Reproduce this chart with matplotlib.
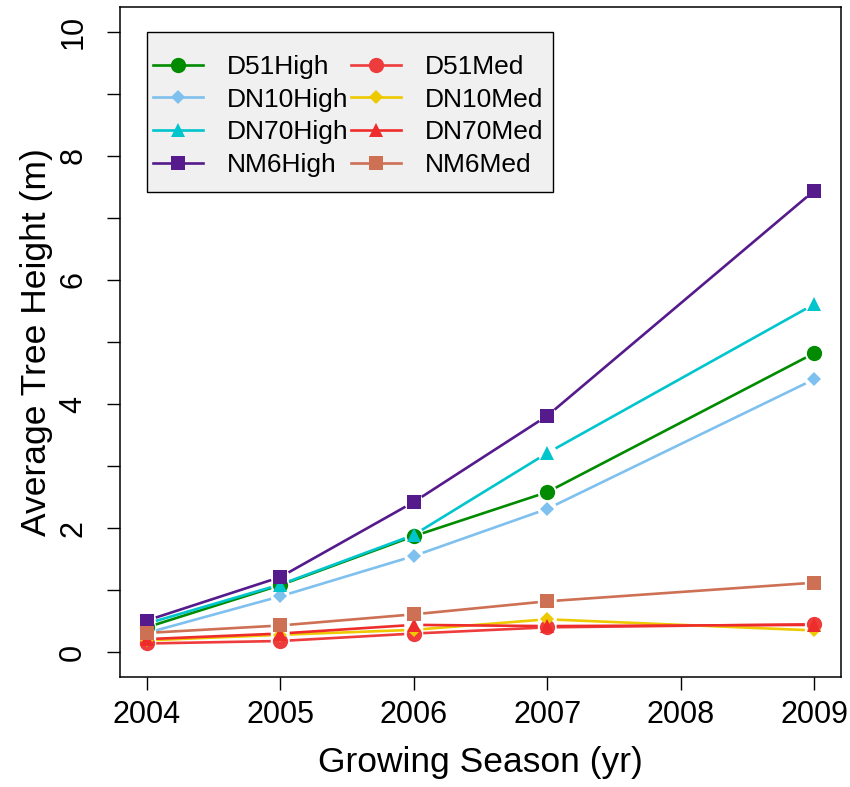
import numpy as np
import matplotlib
matplotlib.use("Agg")
import matplotlib.pyplot as plt
from matplotlib.lines import Line2D
from matplotlib.patches import Rectangle

plt.rcParams['font.family'] = ['Liberation Sans', 'DejaVu Sans']

# Data
years = [2004, 2005, 2006, 2007, 2009]
series_names = ['D51High', 'DN10High', 'DN70High', 'NM6High',
                'D51Med', 'DN10Med', 'DN70Med', 'NM6Med']

d51_high = [0.40, 1.08, 1.87, 2.58, 4.82]
dn10_high = [0.31, 0.90, 1.55, 2.31, 4.40]
dn70_high = [0.46, 1.09, 1.89, 3.21, 5.61]
nm6_high = [0.51, 1.21, 2.42, 3.81, 7.44]

d51_med = [0.14, 0.18, 0.30, 0.40, 0.45]
dn10_med = [0.19, 0.28, 0.36, 0.53, 0.35]
dn70_med = [0.21, 0.30, 0.44, 0.42, 0.44]
nm6_med = [0.31, 0.43, 0.61, 0.82, 1.12]

values = [d51_high, dn10_high, dn70_high, nm6_high,
          d51_med, dn10_med, dn70_med, nm6_med]

colors = ['#008B00', '#7EC0EE', '#00C5CD', '#551A8B',
          '#EE3B3B', '#EEC900', '#EE2C2C', '#CD7054']
markers = ['o', 'D', '^', 's', 'o', 'D', '^', 's']
msizes = {'o': 11, 'D': 6.8, '^': 10.5, 's': 10}

x_ticks = [2004, 2005, 2006, 2007, 2008, 2009]

fig = plt.figure(figsize=(8.5, 7.87), dpi=100)
fig.subplots_adjust(left=0.1412, right=0.9894, bottom=0.1398, top=0.9911)
ax = fig.add_subplot(111)
ax.set_xlim(2003.8, 2009.2)
ax.set_ylim(-0.4, 10.4)


def gapped_line(ax, xs, ys, gap, **kw):
    # R style type="b": line segments stop short of the points
    pts = ax.transData.transform(np.column_stack([xs, ys]))
    inv = ax.transData.inverted()
    for p0, p1 in zip(pts[:-1], pts[1:]):
        d = p1 - p0
        length = np.hypot(d[0], d[1])
        if length <= 2 * gap:
            continue
        u = d / length
        seg = inv.transform(np.array([p0 + u * gap, p1 - u * gap]))
        ax.plot(seg[:, 0], seg[:, 1], **kw)


handles = []
for name, vals, c, m in zip(series_names, values, colors, markers):
    gapped_line(ax, years, vals, 9.5, color=c, lw=1.9, solid_capstyle='butt', zorder=2)
    ax.plot(years, vals, linestyle='none', marker=m, ms=msizes[m],
            color=c, markeredgewidth=0, zorder=3)
    handles.append(Line2D([], [], color=c, lw=1.9, marker=m, ms=msizes[m],
                          markeredgewidth=0, label=name))

ax.set_xticks(x_ticks)
ax.set_xticklabels([str(t) for t in x_ticks])
ax.set_yticks([0, 2, 4, 6, 8, 10])
ax.set_yticks([1, 3, 5, 7, 9], minor=True)
ax.tick_params(axis='both', which='both', direction='out', length=9.4, width=1.0,
               labelsize=22)
ax.tick_params(axis='x', pad=7)
ax.tick_params(axis='y', pad=13.5)
for lab in ax.get_yticklabels():
    lab.set_rotation(90)
    lab.set_va('center')

for sp in ax.spines.values():
    sp.set_linewidth(1.1)

ax.set_xlabel('Growing Season (yr)', fontsize=25.5, labelpad=12)
ax.set_ylabel('Average Tree Height (m)', fontsize=25.5, labelpad=4)

# legend box like R's bg-filled legend
ax.add_patch(Rectangle((0.0374, 0.7239), 0.563, 0.2388, transform=ax.transAxes,
                       facecolor='#F0F0F0', edgecolor='black', lw=1.0, zorder=4))
leg = ax.legend(handles=handles, ncol=2, loc='upper left',
                bbox_to_anchor=(0.0458, 0.9285), frameon=False, fontsize=19,
                borderpad=0, borderaxespad=0, handlelength=1.9,
                handletextpad=0.9, columnspacing=0.08, labelspacing=0.33,
                numpoints=1)
leg.set_zorder(5)

plt.savefig('out.png', dpi=100)
